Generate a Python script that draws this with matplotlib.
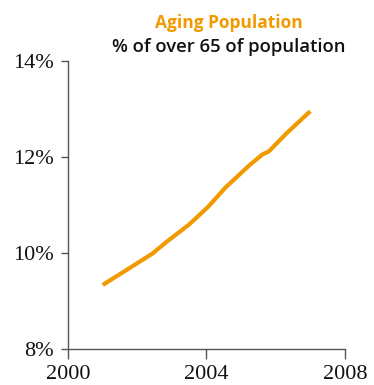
import matplotlib.pyplot as plt
from matplotlib.ticker import FixedLocator

# Share of the population aged over 65, by year
years = [2001.0, 2001.75, 2002.45, 2002.85, 2003.5, 2004.05,
         2004.55, 2005.25, 2005.62, 2005.8, 2006.3, 2007.0]
share = [9.33, 9.67, 9.99, 10.23, 10.59, 10.96,
         11.36, 11.83, 12.05, 12.11, 12.48, 12.95]

x_ticks = [2000, 2004, 2008]
y_ticks = [8, 10, 12, 14]

orange = "#F09A00"
axis_col = "#555555"

fig = plt.figure(figsize=(3.74, 3.85), dpi=100)
ax = fig.add_axes([0.182, 0.094, 0.740, 0.748])

ax.plot(years, share, color=orange, linewidth=3, solid_capstyle="butt")

ax.set_xlim(2000, 2008)
ax.set_ylim(8, 14)
ax.xaxis.set_major_locator(FixedLocator(x_ticks))
ax.yaxis.set_major_locator(FixedLocator(y_ticks))
ax.set_xticklabels([str(t) for t in x_ticks])
ax.set_yticklabels([f"{t}%" for t in y_ticks])

for side in ("top", "right"):
    ax.spines[side].set_visible(False)
for side in ("left", "bottom"):
    ax.spines[side].set_color(axis_col)
    ax.spines[side].set_linewidth(1)

ax.tick_params(axis="y", length=5, width=1, color=axis_col, pad=5,
               labelsize=16, labelcolor="#111111")
ax.tick_params(axis="x", length=7, width=1, color=axis_col, pad=5,
               labelsize=16, labelcolor="#111111")
for lbl in ax.get_xticklabels() + ax.get_yticklabels():
    lbl.set_family("Liberation Serif")

fig.text(0.612, 0.94, "Aging Population", color=orange, fontsize=12.5,
         fontweight="bold", family="Open Sans", ha="center", va="center")
fig.text(0.612, 0.878, "% of over 65 of population", color="#111111",
         fontsize=13.3, fontweight="semibold", family="Open Sans",
         ha="center", va="center")

fig.savefig("out.png", dpi=100)
